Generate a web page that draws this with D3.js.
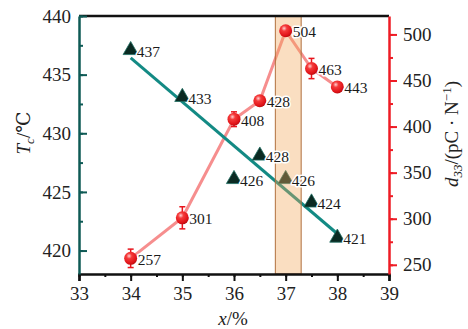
<!DOCTYPE html>
<html>
<head>
<meta charset="utf-8">
<script src="https://cdn.jsdelivr.net/npm/d3@7"></script>
<style>
  html, body { margin: 0; padding: 0; background: #fff; }
  svg { display: block; }
  svg text { font-family: "Liberation Serif", Tinos, "Times New Roman", Times, "Nimbus Roman", "DejaVu Serif", serif !important; }
</style>
</head>
<body>
<svg id="chart" width="468" height="329"></svg>
<script>
// Composition x (%), Curie temperature Tc (°C) and piezoelectric coefficient d33 (pC/N)
const xValues   = [34, 35, 36, 36.5, 37, 37.5, 38];
const tcValues  = [437, 433, 426, 428, 426, 424, 421];
const d33Values = [257, 301, 408, 428, 504, 463, 443];
const d33Errors = [10, 12, 8, 0, 0, 11, 0];
const xTicks    = [33, 34, 35, 36, 37, 38, 39];
const tcTicks   = [420, 425, 430, 435, 440];
const d33Ticks  = [250, 300, 350, 400, 450, 500];
const bandRange = [36.8, 37.3];

const svg = d3.select("#chart");
const m = { left: 79, right: 389, top: 16, bottom: 274 };

const x  = d3.scaleLinear().domain([33, 39]).range([m.left, m.right]);
const yT = d3.scaleLinear().domain([418, 440]).range([m.bottom, m.top]);
const yD = d3.scaleLinear().domain([240, 520]).range([m.bottom, m.top]);

const defs = svg.append("defs");
const grad = defs.append("radialGradient").attr("id", "ball")
  .attr("cx", "38%").attr("cy", "32%").attr("r", "70%");
grad.append("stop").attr("offset", "0%").attr("stop-color", "#ffd0d0");
grad.append("stop").attr("offset", "30%").attr("stop-color", "#f53a3a");
grad.append("stop").attr("offset", "80%").attr("stop-color", "#e01318");
grad.append("stop").attr("offset", "100%").attr("stop-color", "#b80c10");

// Least-squares fit of Tc against x
const mx = d3.mean(xValues), my = d3.mean(tcValues);
const sxy = d3.sum(xValues, (v, i) => (v - mx) * (tcValues[i] - my));
const sxx = d3.sum(xValues, v => (v - mx) * (v - mx));
const slope = sxy / sxx, icpt = my - slope * mx;
const fitX = [d3.min(xValues), d3.max(xValues)];

// d33 connecting line
svg.append("path")
  .datum(xValues.map((v, i) => [v, d33Values[i]]))
  .attr("fill", "none")
  .attr("stroke", "#f47a7a")
  .attr("stroke-width", 3)
  .attr("stroke-opacity", 0.85)
  .attr("d", d3.line().x(d => x(d[0])).y(d => yD(d[1])));

// Tc fit line
svg.append("line")
  .attr("x1", x(fitX[0])).attr("y1", yT(icpt + slope * fitX[0]))
  .attr("x2", x(fitX[1])).attr("y2", yT(icpt + slope * fitX[1]))
  .attr("stroke", "#138a84").attr("stroke-width", 3);

// Tc triangles
const tri = d3.symbol().type(d3.symbolTriangle).size(100);
svg.append("g").selectAll("path")
  .data(xValues.map((v, i) => [v, tcValues[i]]))
  .join("path")
  .attr("transform", d => `translate(${x(d[0])},${yT(d[1]) - 1})`)
  .attr("d", tri)
  .attr("fill", "#0a2a22")
  .attr("stroke", "#1f6f62")
  .attr("stroke-width", 0.8);

// Highlighted composition band
svg.append("rect")
  .attr("x", x(bandRange[0]))
  .attr("y", m.top)
  .attr("width", x(bandRange[1]) - x(bandRange[0]))
  .attr("height", m.bottom - m.top)
  .attr("fill", "rgb(242,168,92)")
  .attr("fill-opacity", 0.38)
  .attr("stroke", "#b0703e")
  .attr("stroke-width", 1);

// d33 error bars
const eb = svg.append("g").attr("stroke", "#e8141c").attr("stroke-width", 1.5);
xValues.forEach((v, i) => {
  const e = d33Errors[i];
  if (!e) return;
  const cx = x(v), y1 = yD(d33Values[i] - e), y2 = yD(d33Values[i] + e);
  eb.append("line").attr("x1", cx).attr("x2", cx).attr("y1", y1).attr("y2", y2);
  eb.append("line").attr("x1", cx - 3).attr("x2", cx + 3).attr("y1", y1).attr("y2", y1);
  eb.append("line").attr("x1", cx - 3).attr("x2", cx + 3).attr("y1", y2).attr("y2", y2);
});

// d33 spheres
svg.append("g").selectAll("circle")
  .data(xValues.map((v, i) => [v, d33Values[i]]))
  .join("circle")
  .attr("cx", d => x(d[0]))
  .attr("cy", d => yD(d[1]))
  .attr("r", 6.5)
  .attr("fill", "url(#ball)");

// Value labels
function labels(vals, scale, dx, dy) {
  svg.append("g").selectAll("text")
    .data(xValues.map((v, i) => [v, vals[i]]))
    .join("text")
    .attr("x", d => x(d[0]) + dx)
    .attr("y", d => scale(d[1]) + dy)
    .attr("dominant-baseline", "central")
    .attr("font-size", 15.5)
    .attr("fill", "#1a1a1a")
    .attr("stroke", "#fff")
    .attr("stroke-width", 3)
    .attr("stroke-linejoin", "round")
    .attr("paint-order", "stroke")
    .text(d => d[1]);
}
labels(tcValues, yT, 6, 0);
labels(d33Values, yD, 7, 1);

// Frame: top line
svg.append("line")
  .attr("x1", m.left).attr("x2", m.right)
  .attr("y1", m.top).attr("y2", m.top)
  .attr("stroke", "#111").attr("stroke-width", 2.5);

// Bottom axis
const gx = svg.append("g").attr("transform", `translate(0,${m.bottom})`);
gx.call(d3.axisBottom(x).tickValues(d3.range(33, 39.01, 0.5)).tickSize(3).tickFormat(""));
gx.call(g => { g.select(".domain").remove(); g.selectAll(".tick line").attr("stroke", "#111").attr("stroke-width", 2); });
const gx2 = svg.append("g").attr("transform", `translate(0,${m.bottom})`);
gx2.call(d3.axisBottom(x).tickValues(xTicks).tickSize(7).tickPadding(6).tickFormat(d3.format("d")));
gx2.call(g => {
  g.select(".domain").attr("stroke", "#111").attr("stroke-width", 2.5);
  g.selectAll(".tick line").attr("stroke", "#111").attr("stroke-width", 2);
  g.selectAll("text").attr("font-size", 19).attr("fill", "#222");
});

// Left axis (Tc)
const teal = "#0e5a55";
const gl = svg.append("g").attr("transform", `translate(${m.left},0)`);
gl.call(d3.axisLeft(yT).tickValues(d3.range(420, 440.1, 2.5)).tickSize(-4).tickFormat(""));
gl.call(g => { g.select(".domain").remove(); g.selectAll(".tick line").attr("stroke", teal).attr("stroke-width", 2); });
const gl2 = svg.append("g").attr("transform", `translate(${m.left},0)`);
gl2.call(d3.axisLeft(yT).tickValues(tcTicks).tickSize(-8).tickPadding(8).tickSizeOuter(0));
gl2.call(g => {
  g.select(".domain").attr("stroke", teal).attr("stroke-width", 2.5);
  g.selectAll(".tick line").attr("stroke", teal).attr("stroke-width", 2);
  g.selectAll("text").attr("x", -8).attr("font-size", 19).attr("fill", "#222");
});

// Right axis (d33)
const red = "#ee1c25";
const gr = svg.append("g").attr("transform", `translate(${m.right},0)`);
gr.call(d3.axisRight(yD).tickValues(d3.range(250, 520, 25)).tickSize(4).tickFormat(""));
gr.call(g => { g.select(".domain").remove(); g.selectAll(".tick line").attr("stroke", red).attr("stroke-width", 2); });
const gr2 = svg.append("g").attr("transform", `translate(${m.right},0)`);
gr2.call(d3.axisRight(yD).tickValues(d33Ticks).tickSize(8).tickPadding(6).tickSizeOuter(0));
gr2.call(g => {
  g.select(".domain").attr("stroke", red).attr("stroke-width", 2.5);
  g.selectAll(".tick line").attr("stroke", red).attr("stroke-width", 2);
  g.selectAll("text").attr("font-size", 19).attr("fill", "#222");
});

// Axis titles
const tl = svg.append("text")
  .attr("transform", "translate(30,133) rotate(-90)")
  .attr("text-anchor", "middle")
  .attr("font-size", 19).attr("fill", "#222");
tl.append("tspan").attr("font-style", "italic").text("T");
tl.append("tspan").attr("font-style", "italic").attr("font-size", 13).attr("dy", 4).text("c");
tl.append("tspan").attr("dy", -4).text("/℃");

const tr = svg.append("text")
  .attr("transform", "translate(458,134) rotate(-90)")
  .attr("text-anchor", "middle")
  .attr("font-size", 19).attr("fill", "#222");
tr.append("tspan").attr("font-style", "italic").text("d");
tr.append("tspan").attr("font-style", "italic").attr("font-size", 13).attr("dy", 4).text("33");
tr.append("tspan").attr("dy", -4).text("/(pC · N");
tr.append("tspan").attr("font-size", 13).attr("dy", -7).text("−1");
tr.append("tspan").attr("dy", 7).text(")");

const bx = svg.append("text")
  .attr("x", 233).attr("y", 325)
  .attr("text-anchor", "middle")
  .attr("font-size", 19).attr("fill", "#222");
bx.append("tspan").attr("font-style", "italic").text("x");
bx.append("tspan").text("/%");
</script>
</body>
</html>
